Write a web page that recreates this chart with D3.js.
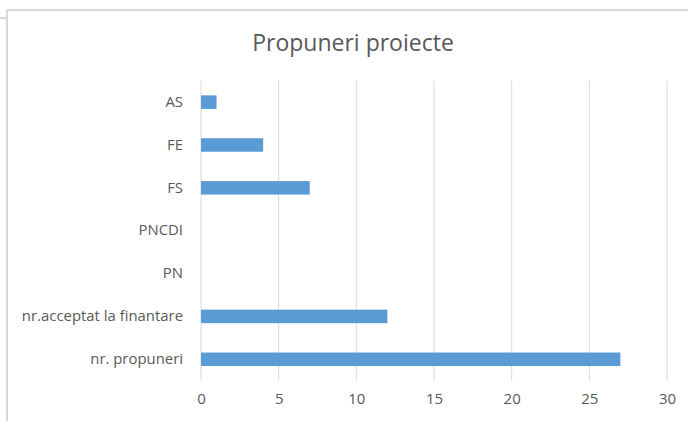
<!DOCTYPE html>
<html>
<head>
<meta charset="utf-8">
<script src="https://cdn.jsdelivr.net/npm/d3@7"></script>
<style>
  body { margin: 0; background: #fff; }
  text { font-family: "Open Sans", "Noto Sans", sans-serif; fill: #595959; }
</style>
</head>
<body>
<div id="chart"></div>
<script>
var categories = ["AS", "FE", "FS", "PNCDI", "PN", "nr.acceptat la finantare", "nr. propuneri"];
var values = [1, 4, 7, 0, 0, 12, 27];
var xTicks = [0, 5, 10, 15, 20, 25, 30];
var title = "Propuneri proiecte";

var width = 688, height = 421;
var margin = {top: 80.7, right: 21, bottom: 40.3, left: 201};

var svg = d3.select('#chart').append('svg')
            .attr('width', width).attr('height', height);

// chart frame (cropped excel border)
svg.append('path')
   .attr('d', 'M0,18H7M7,421V10H688')
   .attr('fill', 'none').attr('stroke', '#d9d9d9').attr('stroke-width', 2);

var x = d3.scaleLinear().domain([0, 30]).range([margin.left, width - margin.right]);
var y = d3.scaleBand().domain(categories)
          .range([margin.top, height - margin.bottom])
          .paddingInner(0.685).paddingOuter(0.3425);

// gridlines
svg.append('g').selectAll('line').data(xTicks).enter().append('line')
   .attr('x1', d => x(d)).attr('x2', d => x(d))
   .attr('y1', margin.top).attr('y2', height - margin.bottom)
   .attr('stroke', '#d9d9d9').attr('stroke-width', 1);

// bars
svg.append('g').selectAll('rect').data(values).enter().append('rect')
   .attr('x', x(0))
   .attr('y', (d, i) => y(categories[i]))
   .attr('width', d => x(d) - x(0))
   .attr('height', y.bandwidth())
   .attr('fill', '#5b9bd5');

// x axis labels
var xAxis = d3.axisBottom(x).tickValues(xTicks).tickSize(0).tickPadding(13);
var gx = svg.append('g').attr('transform', 'translate(0,' + (height - margin.bottom) + ')').call(xAxis);
gx.select('.domain').remove();
gx.selectAll('text').style('font-size', '15px').attr('fill', '#595959')
  .style('font-family', '"Open Sans", "Noto Sans", sans-serif');

// y axis labels
var yAxis = d3.axisLeft(y).tickSize(0).tickPadding(18);
var gy = svg.append('g').attr('transform', 'translate(' + margin.left + ',0)').call(yAxis);
gy.select('.domain').remove();
gy.selectAll('text').style('font-size', '14.9px').attr('fill', '#595959')
  .style('font-family', '"Open Sans", "Noto Sans", sans-serif');

// title
svg.append('text').attr('x', 353).attr('y', 51)
   .attr('text-anchor', 'middle')
   .style('font-size', '23px')
   .text(title);
</script>
</body>
</html>
